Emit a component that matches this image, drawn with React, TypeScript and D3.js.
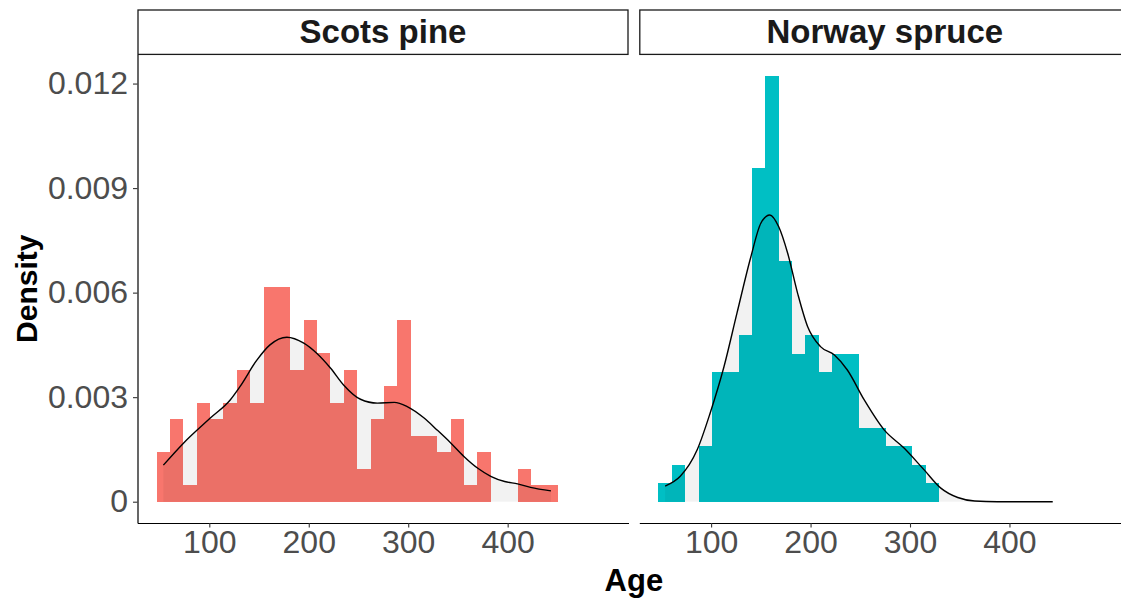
import { useEffect, useRef } from "react"
import * as d3 from "d3"

// Tree age, two species, histograms on density scale + kernel density
const SPECIES = ["Scots pine", "Norway spruce"]
const FILLS = ["#F8766D", "#00BFC4"]

// observed age range of all trees (shared x scale, 30 bins)
const AGE_MIN = 53.8
const AGE_MAX = 443.5
const N_BINS = 30

const pineCounts = [3, 5, 1, 6, 5, 6, 8, 6, 13, 13, 8, 11, 9, 6, 8, 2, 5, 7, 11, 4, 4, 3, 5, 1, 3, 0, 0, 2, 1, 1]
const spruceCounts = [1, 2, 0, 3, 7, 7, 9, 18, 23, 13, 8, 9, 7, 8, 8, 4, 4, 3, 3, 2, 1, 0, 0, 0, 0, 0, 0, 0, 0, 0]

// density curves (age, density x 1000)
const pineDensAge = [53.8, 74, 101, 121, 131, 148, 161, 178, 195, 208, 222, 235, 252, 269, 286, 299, 316, 329, 343, 356, 370, 383, 397, 410, 423, 443.5]
const pineDens = [1.05, 1.68, 2.4, 2.92, 3.31, 4.07, 4.5, 4.72, 4.55, 4.26, 3.83, 3.35, 2.94, 2.83, 2.85, 2.73, 2.4, 2.06, 1.68, 1.3, 0.96, 0.73, 0.58, 0.51, 0.41, 0.31]
const spruceDensAge = [53.8, 69, 86, 99, 113, 126, 140, 150, 159, 168, 177, 187, 197, 210, 224, 237, 254, 274, 294, 314, 331, 348, 365, 388, 443.5]
const spruceDens = [0.45, 0.73, 1.49, 2.54, 3.88, 5.41, 7.03, 7.99, 8.23, 7.89, 7.13, 5.98, 5.03, 4.45, 4.21, 3.78, 2.92, 2.06, 1.54, 0.92, 0.39, 0.12, 0.02, 0, 0]

const yTicks = [0, 0.003, 0.006, 0.009, 0.012]
const xTicks = [100, 200, 300, 400]
const X_DOMAIN: [number, number] = [27.8, 521.5]

const FONT = "'Liberation Sans', Arial, Helvetica, sans-serif"

export default function App() {
  const ref = useRef<SVGSVGElement>(null)

  useEffect(() => {
    if (!ref.current) return
    const el = ref.current
    d3.select(el).selectAll("*").remove()

    const W = 1121
    const H = 600
    const svg = d3.select(el).attr("width", W).attr("height", H).attr("viewBox", `0 0 ${W} ${H}`)

    const panelLeft = 137.5
    const panelW = 491
    const gap = 10.8
    const stripTop = 10
    const stripBottom = 54.4
    const panelBottom = 523

    const binW = (AGE_MAX - AGE_MIN) / (N_BINS - 1)
    const binStart = AGE_MIN - binW / 2

    const allCounts = [pineCounts, spruceCounts]
    const dens = [
      pineDensAge.map((a, i) => ({ age: a, d: pineDens[i] / 1000 })),
      spruceDensAge.map((a, i) => ({ age: a, d: spruceDens[i] / 1000 })),
    ]

    const bars = allCounts.map((counts) => {
      const n = d3.sum(counts)
      return counts.map((c, i) => ({ x0: binStart + i * binW, x1: binStart + (i + 1) * binW, d: c / (n * binW) }))
    })

    const maxD = d3.max(bars.flat(), (b) => b.d) ?? 0.012
    const y = d3
      .scaleLinear()
      .domain([-maxD * 0.05, maxD * 1.05])
      .range([panelBottom, stripBottom])

    SPECIES.forEach((name, p) => {
      const x0 = panelLeft + p * (panelW + gap)
      const x = d3.scaleLinear().domain(X_DOMAIN).range([x0, x0 + panelW])
      const g = svg.append("g")

      // histogram
      g.selectAll("rect.bar")
        .data(bars[p].filter((b) => b.d > 0))
        .join("rect")
        .attr("class", "bar")
        .attr("x", (b) => x(b.x0))
        .attr("width", (b) => x(b.x1) - x(b.x0))
        .attr("y", (b) => y(b.d))
        .attr("height", (b) => y(0) - y(b.d))
        .attr("fill", FILLS[p])
        .attr("shape-rendering", "crispEdges")

      // density fill (translucent) then line
      const area = d3
        .area<{ age: number; d: number }>()
        .x((d) => x(d.age))
        .y0(y(0))
        .y1((d) => y(d.d))
        .curve(d3.curveMonotoneX)
      g.append("path").datum(dens[p]).attr("d", area).attr("fill", "#000").attr("fill-opacity", 0.05)

      const line = d3
        .line<{ age: number; d: number }>()
        .x((d) => x(d.age))
        .y((d) => y(d.d))
        .curve(d3.curveMonotoneX)
      g.append("path")
        .datum(dens[p])
        .attr("d", line)
        .attr("fill", "none")
        .attr("stroke", "#000")
        .attr("stroke-width", 1.4)

      // strip
      g.append("rect")
        .attr("x", x0 + 0.5)
        .attr("y", stripTop)
        .attr("width", panelW - 1)
        .attr("height", stripBottom - stripTop)
        .attr("fill", "white")
        .attr("stroke", "#1a1a1a")
        .attr("stroke-width", 1.3)
      g.append("text")
        .attr("x", x0 + panelW / 2)
        .attr("y", 43)
        .attr("text-anchor", "middle")
        .attr("font-family", FONT)
        .attr("font-weight", 700)
        .attr("font-size", 33)
        .attr("fill", "#1a1a1a")
        .text(name)

      // x axis
      const xa = g
        .append("g")
        .attr("transform", `translate(0,${panelBottom})`)
        .call(d3.axisBottom(x).tickValues(xTicks).tickSize(4.5).tickSizeOuter(0).tickPadding(3))
      xa.select(".domain").attr("stroke", "#000").attr("stroke-width", 1.2)
      xa.selectAll(".tick line").attr("stroke", "#333").attr("stroke-width", 1.1)
      xa.selectAll(".tick text")
        .attr("font-family", FONT)
        .attr("font-size", 32)
        .attr("fill", "#4D4D4D")

      if (p === 0) {
        const ya = g
          .append("g")
          .attr("transform", `translate(${x0},0)`)
          .call(
            d3
              .axisLeft(y)
              .tickValues(yTicks)
              .tickSize(4.5)
              .tickSizeOuter(0)
              .tickPadding(5)
              .tickFormat((d) => (d === 0 ? "0" : d3.format(".3f")(d as number)))
          )
        ya.select(".domain").attr("stroke", "#000").attr("stroke-width", 1.2)
        ya.selectAll(".tick line").attr("stroke", "#333").attr("stroke-width", 1.1)
        ya.selectAll(".tick text")
          .attr("font-family", FONT)
          .attr("font-size", 32)
          .attr("fill", "#4D4D4D")
      }
    })

    // axis titles
    svg.append("text")
      .attr("x", panelLeft + (2 * panelW + gap) / 2)
      .attr("y", 591)
      .attr("text-anchor", "middle")
      .attr("font-family", FONT)
      .attr("font-weight", 700)
      .attr("font-size", 31)
      .attr("fill", "#000")
      .text("Age")

    svg.append("text")
      .attr("transform", `translate(37,${(stripBottom + panelBottom) / 2}) rotate(-90)`)
      .attr("text-anchor", "middle")
      .attr("font-family", FONT)
      .attr("font-weight", 700)
      .attr("font-size", 30)
      .attr("fill", "#000")
      .text("Density")
  }, [])

  return <svg ref={ref} style={{ position: "absolute", left: 0, top: 0, display: "block" }} />
}
